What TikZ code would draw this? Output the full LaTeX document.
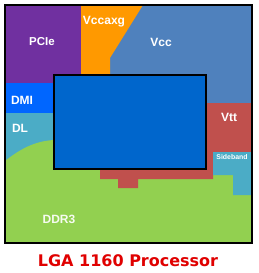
\documentclass[tikz,border=0pt]{standalone}
\usepackage{fontspec}
\setmainfont{Liberation Sans}
\newfontfamily\titlefont{DejaVu Sans}
\definecolor{vcccol}{RGB}{79,129,189}
\definecolor{pciecol}{RGB}{112,48,160}
\definecolor{axgcol}{RGB}{255,153,0}
\definecolor{dmicol}{RGB}{0,102,255}
\definecolor{innercol}{RGB}{0,102,204}
\definecolor{vttcol}{RGB}{192,80,77}
\definecolor{sbcol}{RGB}{75,172,198}
\definecolor{ddrcol}{RGB}{146,208,80}
\definecolor{titlecol}{RGB}{224,0,0}
\begin{document}
\begin{tikzpicture}[x=1pt,y=-1pt,
  lbl/.style={text=white,font=\bfseries\fontsize{12}{12}\selectfont,inner sep=0pt,anchor=base},
  border/.style={draw=black,line width=2.5pt}]
\useasboundingbox[fill=white] (0,0) rectangle (258,273);
% regions
\fill[vcccol] (5,5) rectangle (252,243);
\fill[pciecol] (5,5) rectangle (81,83);
\fill[axgcol] (81,5) -- (143,5) -- (110,58) -- (110,76) -- (81,76) -- cycle;
\fill[dmicol] (5,83) rectangle (54,113);
\fill[sbcol] (5,113) rectangle (54,166);
\fill[ddrcol] (5,161) .. controls (20,149) and (35,141) .. (54,140) -- (252,140) -- (252,243) -- (5,243) -- cycle;
\fill[vttcol] (206,103) -- (252,103) -- (252,152) -- (213,152) -- (213,179) -- (138,179) -- (138,188) -- (118,188) -- (118,179) -- (100,179) -- (100,168) -- (206,168) -- cycle;
\fill[sbcol] (213,152) -- (252,152) -- (252,195) -- (233,195) -- (233,175) -- (213,175) -- cycle;
\draw[border,fill=innercol] (54,75) rectangle (206,169);
\draw[border] (5,5) rectangle (252,243);
% labels
\node[lbl,font=\bfseries\fontsize{11.5}{12}\selectfont] (pcie) at (42,45) {PCIe};
\node[lbl] (vccaxg) at (104,24) {Vccaxg};
\node[lbl] (vcc) at (161,46) {Vcc};
\node[lbl] (dmi) at (22,104) {DMI};
\node[lbl] (dl) at (20,132) {DL};
\node[lbl] (vtt) at (229,121) {Vtt};
\node[lbl,font=\bfseries\fontsize{6.9}{7}\selectfont] (sideband) at (232,159) {Sideband};
\node[lbl,text=white!92!ddrcol] (ddr) at (59,223) {DDR3};
\node[lbl,text=titlecol,font=\titlefont\bfseries\fontsize{16}{16}\selectfont] (title) at (128,266) {LGA 1160 Processor};
\end{tikzpicture}
\end{document}
